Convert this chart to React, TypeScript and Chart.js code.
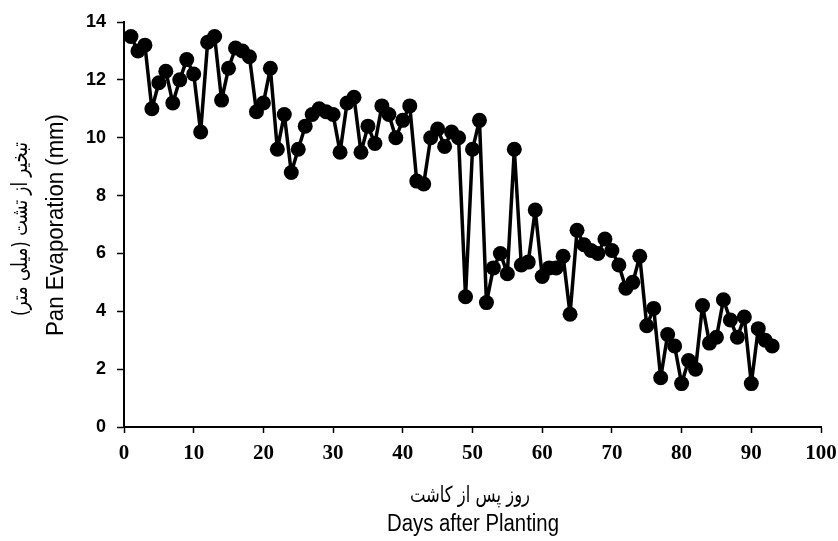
import React, { useEffect, useRef } from "react";
import { Chart, registerables } from "chart.js";

Chart.register(...registerables);

const days = [
  1, 2, 3, 4, 5, 6, 7, 8, 9, 10, 11, 12, 13, 14, 15, 16, 17, 18, 19, 20,
  21, 22, 23, 24, 25, 26, 27, 28, 29, 30, 31, 32, 33, 34, 35, 36, 37, 38, 39, 40,
  41, 42, 43, 44, 45, 46, 47, 48, 49, 50, 51, 52, 53, 54, 55, 56, 57, 58, 59, 60,
  61, 62, 63, 64, 65, 66, 67, 68, 69, 70, 71, 72, 73, 74, 75, 76, 77, 78, 79, 80,
  81, 82, 83, 84, 85, 86, 87, 88, 89, 90, 91, 92, 93,
];

const panEvaporation = [
  13.5, 13.0, 13.2, 11.0, 11.9, 12.3, 11.2, 12.0, 12.7, 12.2,
  10.2, 13.3, 13.5, 11.3, 12.4, 13.1, 13.0, 12.8, 10.9, 11.2,
  12.4, 9.6, 10.8, 8.8, 9.6, 10.4, 10.8, 11.0, 10.9, 10.8,
  9.5, 11.2, 11.4, 9.5, 10.4, 9.8, 11.1, 10.8, 10.0, 10.6,
  11.1, 8.5, 8.4, 10.0, 10.3, 9.7, 10.2, 10.0, 4.5, 9.6,
  10.6, 4.3, 5.5, 6.0, 5.3, 9.6, 5.6, 5.7, 7.5, 5.2,
  5.5, 5.5, 5.9, 3.9, 6.8, 6.3, 6.1, 6.0, 6.5, 6.1,
  5.6, 4.8, 5.0, 5.9, 3.5, 4.1, 1.7, 3.2, 2.8, 1.5,
  2.3, 2.0, 4.2, 2.9, 3.1, 4.4, 3.7, 3.1, 3.8, 1.5,
  3.4, 3.0, 2.8,
];

const xMin = 0;
const xMax = 100;
const xStep = 10;
const yMin = 0;
const yMax = 14;
const yStep = 2;

const yTitleFa = "تبخیر از تشت (میلی متر)";
const yTitleEn = "Pan Evaporation (mm)";
const xTitleFa = "روز پس از کاشت";
const xTitleEn = "Days after Planting";

function drawFitted(
  ctx: CanvasRenderingContext2D,
  text: string,
  cx: number,
  cy: number,
  targetWidth: number,
  font: string,
  rotate: boolean
) {
  ctx.save();
  ctx.font = font;
  ctx.textAlign = "center";
  ctx.textBaseline = "middle";
  ctx.fillStyle = "#000";
  const w = ctx.measureText(text).width || 1;
  ctx.translate(cx, cy);
  if (rotate) ctx.rotate(-Math.PI / 2);
  ctx.scale(targetWidth / w, 1);
  ctx.fillText(text, 0, 0);
  ctx.restore();
}

const titlesPlugin = {
  id: "customTitles",
  afterDraw(chart: any) {
    const ctx = chart.ctx as CanvasRenderingContext2D;
    drawFitted(ctx, yTitleFa, 21, 229, 174, "22px 'DejaVu Sans', 'Noto Sans', sans-serif", true);
    drawFitted(ctx, yTitleEn, 57, 225, 222, "23px 'Liberation Sans', Arial, sans-serif", true);
    drawFitted(ctx, xTitleFa, 470, 496, 120, "22px 'DejaVu Sans', 'Noto Sans', sans-serif", false);
    drawFitted(ctx, xTitleEn, 473, 525, 172, "23px 'Liberation Sans', Arial, sans-serif", false);
  },
};

export default function App() {
  const canvasRef = useRef<HTMLCanvasElement | null>(null);

  useEffect(() => {
    document.body.style.margin = "0";
    const canvas = canvasRef.current;
    if (!canvas) return;
    const points = days.map((d, i) => ({ x: d, y: panEvaporation[i] }));
    const chart = new Chart(canvas, {
      type: "line",
      data: {
        datasets: [
          {
            data: points,
            borderColor: "#000",
            backgroundColor: "#000",
            borderWidth: 3.5,
            borderJoinStyle: "round",
            borderCapStyle: "round",
            pointRadius: 7.5,
            pointHoverRadius: 7.5,
            pointBackgroundColor: "#000",
            pointBorderColor: "#000",
            pointBorderWidth: 0,
            tension: 0,
            clip: false as any,
          },
        ],
      },
      options: {
        animation: false,
        responsive: false,
        maintainAspectRatio: false,
        layout: { padding: { top: 22, right: 17, left: 0, bottom: 0 } },
        plugins: {
          legend: { display: false },
          tooltip: { enabled: false },
          title: { display: false },
        },
        scales: {
          x: {
            type: "linear",
            min: xMin,
            max: xMax,
            afterFit: (scale: any) => {
              scale.height = 114;
              scale.paddingRight = 0;
              scale.paddingLeft = 0;
            },
            ticks: {
              stepSize: xStep,
              color: "#000",
              padding: 8,
              maxRotation: 0,
              font: { family: "'Liberation Serif', 'Times New Roman', serif", size: 21, weight: "bold" },
            },
            grid: {
              display: true,
              drawOnChartArea: false,
              drawTicks: true,
              tickLength: 6,
              tickWidth: 1.5,
              tickColor: "#000",
            },
            border: { display: true, color: "#000", width: 2 },
          },
          y: {
            type: "linear",
            min: yMin,
            max: yMax,
            afterFit: (scale: any) => {
              scale.width = 124;
              scale.paddingTop = 0;
              scale.paddingBottom = 0;
            },
            ticks: {
              stepSize: yStep,
              color: "#000",
              padding: 11,
              font: { family: "'Liberation Sans', Arial, sans-serif", size: 18, weight: "bold" },
            },
            grid: {
              display: true,
              drawOnChartArea: false,
              drawTicks: true,
              tickLength: 7,
              tickWidth: 1.5,
              tickColor: "#000",
            },
            border: { display: true, color: "#000", width: 2 },
          },
        },
      },
      plugins: [titlesPlugin],
    });
    return () => chart.destroy();
  }, []);

  return (
    <div style={{ width: 838, height: 541, position: "relative" }}>
      <canvas ref={canvasRef} width={838} height={541} style={{ display: "block" }} />
    </div>
  );
}
